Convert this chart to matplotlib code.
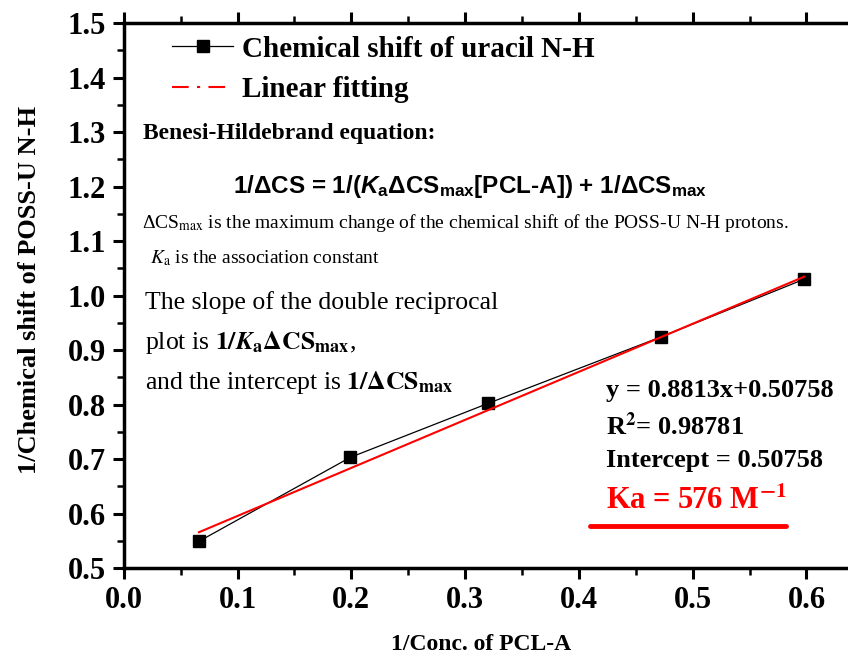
import matplotlib
matplotlib.use("Agg")
import matplotlib.pyplot as plt
from matplotlib.lines import Line2D
from matplotlib.ticker import MultipleLocator

plt.rcParams['font.family'] = ['Liberation Serif', 'DejaVu Serif']
plt.rcParams['mathtext.fontset'] = 'custom'
plt.rcParams['mathtext.rm'] = 'Liberation Sans:bold'
plt.rcParams['mathtext.it'] = 'Liberation Sans:italic:bold'
plt.rcParams['mathtext.bf'] = 'Liberation Sans:bold'

# data
inv_conc = [0.066, 0.199, 0.320, 0.472, 0.598]
inv_shift = [0.549, 0.703, 0.802, 0.924, 1.030]

# linear fit y = 0.8813x + 0.50758, end points
fit_x = [0.066, 0.598]
fit_y = [0.5657, 1.0346]

fig = plt.figure(figsize=(8.48, 6.59), dpi=100)
ax = fig.add_axes([0.146, 0.138, 0.86, 0.827])

ax.plot(inv_conc, inv_shift, color='black', lw=0.9, marker='s', ms=8,
        label='Chemical shift of uracil N-H')
ax.plot(fit_x, fit_y, color='red', lw=1.5, label='Linear fitting')

ax.set_xlim(0.0, 0.641)
ax.set_ylim(0.5, 1.5)
ax.xaxis.set_major_locator(MultipleLocator(0.1))
ax.xaxis.set_minor_locator(MultipleLocator(0.05))
ax.yaxis.set_major_locator(MultipleLocator(0.1))
ax.yaxis.set_minor_locator(MultipleLocator(0.05))
ax.xaxis.set_major_formatter(plt.FuncFormatter(lambda v, p: f'{v:.1f}'))
ax.yaxis.set_major_formatter(plt.FuncFormatter(lambda v, p: f'{v:.1f}'))
for s in ax.spines.values():
    s.set_linewidth(2.5)
ax.tick_params(which='major', direction='out', length=8, width=2.2, labelsize=22, pad=5)
ax.tick_params(which='minor', direction='out', length=5, width=1.8)
ax.tick_params(top=True, which='both')
for lab in ax.get_xticklabels() + ax.get_yticklabels():
    lab.set_fontweight('bold')

ax.set_xlabel('1/Conc. of PCL-A', fontsize=17, fontweight='bold', va='center')
ax.xaxis.set_label_coords(0.49, -0.141)
ax.set_ylabel('1/Chemical shift of POSS-U N-H', fontsize=19, fontweight='bold', va='center')
ax.yaxis.set_label_coords(-0.13, 0.51)

h1 = Line2D([], [], color='black', lw=0.9, marker='s', ms=8)
h2 = Line2D([], [], color='red', lw=1.5, ls=(0, (8, 4, 1.5, 4)))
ax.legend([h1, h2], ['Chemical shift of uracil N-H', 'Linear fitting'],
          loc='upper left', bbox_to_anchor=(0.03, 1.025), frameon=False,
          prop={'weight': 'bold', 'size': 21}, handlelength=2.1,
          handletextpad=0.3, labelspacing=0.45)

W, H = 848, 659
def ft(x, y, s, **kw):
    fig.text(x / W, 1 - y / H, s, va='center', **kw)

ft(143, 133, 'Benesi-Hildebrand equation:', fontsize=17, fontweight='bold')
ft(470, 187, r'1/ΔCS = 1/($\mathit{K}_{\mathrm{a}}$ΔCS$_{\mathrm{max}}$[PCL-A]) + 1/ΔCS$_{\mathrm{max}}$',
   fontsize=17.5, fontweight='bold', ha='center',
   family=['Liberation Sans Narrow', 'Liberation Sans'], math_fontfamily='custom')
ft(142, 223, r'ΔCS$_{\mathrm{max}}$ is the maximum change of the chemical shift of the POSS-U N-H protons.',
   fontsize=14, math_fontfamily='stix')
ft(150, 258, r'$\mathit{K}_{\mathrm{a}}$ is the association constant', fontsize=14, math_fontfamily='stix')
ft(145, 303, 'The slope of the double reciprocal', fontsize=18.5)
ft(145, 343, r'plot is $\mathbf{1/}\mathbfit{K}_{\mathbf{a}}\mathbf{\Delta CS}_{\mathbf{max}}$,',
   fontsize=18.5, math_fontfamily='stix')
ft(145, 383, r'and the intercept is $\mathbf{1/\Delta CS}_{\mathbf{max}}$',
   fontsize=18.5, math_fontfamily='stix')

ft(606, 390, 'y = 0.8813x+0.50758', fontsize=19, fontweight='bold')
ft(606, 426, r'R$^{\mathbf{2}}$= 0.98781', fontsize=19, fontweight='bold', math_fontfamily='stix')
ft(606, 460, 'Intercept = 0.50758', fontsize=19, fontweight='bold')
ft(606, 501, r'Ka = 576 M$^{\mathbf{-1}}$', fontsize=22, fontweight='bold', color='red',
   math_fontfamily='stix')
fig.add_artist(Line2D([590 / W, 786 / W], [1 - 526 / H, 1 - 526 / H], color='red', lw=3.5,
                      solid_capstyle='round'))

fig.savefig('out.png', dpi=100)
